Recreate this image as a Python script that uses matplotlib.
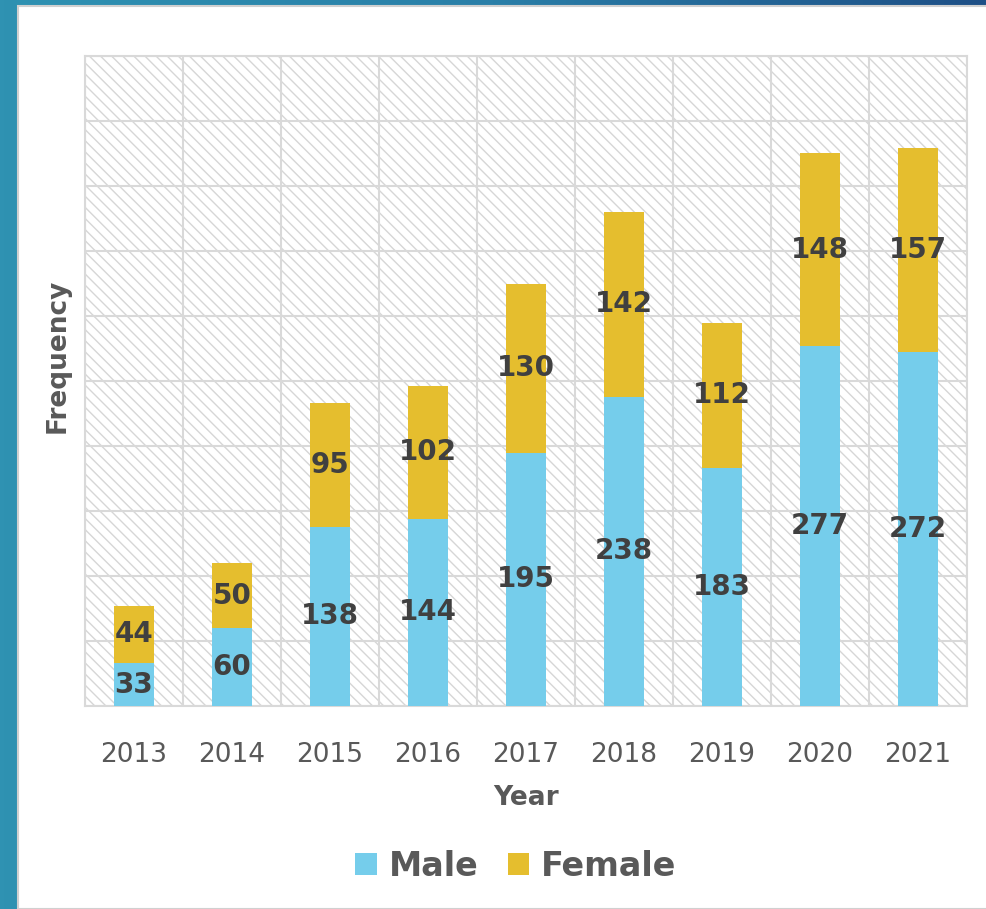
import numpy as np
import matplotlib
matplotlib.use('Agg')
import matplotlib.pyplot as plt
from matplotlib.patches import Rectangle
from matplotlib.colors import LinearSegmentedColormap

years = ['2013', '2014', '2015', '2016', '2017', '2018', '2019', '2020', '2021']
male = [33, 60, 138, 144, 195, 238, 183, 277, 272]
female = [44, 50, 95, 102, 130, 142, 112, 148, 157]

plt.rcParams['font.family'] = ['DejaVu Sans']
plt.rcParams['hatch.color'] = '#D9D9D9'
plt.rcParams['hatch.linewidth'] = 1.0

fig = plt.figure(figsize=(9.86, 9.09), dpi=100)

# blue background with white panel
bg = fig.add_axes([0, 0, 1, 1])
grad = np.linspace(0, 1, 256).reshape(1, -1)
cmap = LinearSegmentedColormap.from_list('bg', ['#2F92B2', '#2A7FA8', '#1E4F86'])
bg.imshow(grad, aspect='auto', cmap=cmap, extent=[0, 1, 0, 1])
bg.add_patch(Rectangle((18 / 986, 0), 1, 1 - 6 / 909, facecolor='white',
                       edgecolor='#D0D0D0', linewidth=1.5))
bg.set_xlim(0, 1)
bg.set_ylim(0, 1)
bg.axis('off')

ax = fig.add_axes([85 / 986, 1 - 706 / 909, (967 - 85) / 986, (706 - 56) / 909])
ax.set_zorder(2)
x = np.arange(len(years))
ax.add_patch(Rectangle((0, 0), 1, 1, transform=ax.transAxes, facecolor='white',
                       edgecolor='#D6D6D6', linewidth=0, hatch='\\\\\\', zorder=0))

male_col = '#75CDEB'
female_col = '#E5BE2E'
ax.bar(x, male, width=0.4, color=male_col, label='Male', zorder=3)
ax.bar(x, female, width=0.4, bottom=male, color=female_col, label='Female', zorder=3)

for i in range(len(years)):
    ax.text(x[i], male[i] / 2, str(male[i]), ha='center', va='center',
            fontsize=20, fontweight='bold', color='#404040', zorder=4)
    ax.text(x[i], male[i] + female[i] / 2, str(female[i]), ha='center', va='center',
            fontsize=20, fontweight='bold', color='#404040', zorder=4)

ax.set_xlim(-0.5, len(years) - 0.5)
ax.set_ylim(0, 500)
ax.set_yticks(np.arange(0, 501, 50))
ax.set_yticklabels([])
ax.set_xticks(x)
ax.set_xticklabels(years, fontsize=19, color='#595959')
ax.set_xticks(np.arange(-0.5, len(years), 1), minor=True)
ax.tick_params(axis='both', which='both', length=0)
ax.tick_params(axis='x', pad=26)
ax.grid(True, axis='y', which='major', color='#D9D9D9', linewidth=1.5, zorder=1)
ax.grid(True, axis='x', which='minor', color='#D9D9D9', linewidth=1.5, zorder=1)
ax.grid(False, axis='x', which='major')
ax.set_axisbelow(True)
for s in ax.spines.values():
    s.set_color('#D9D9D9')
    s.set_linewidth(1.5)

ax.set_xlabel('Year', fontsize=19, fontweight='bold', color='#595959', labelpad=12)
ax.set_ylabel('Frequency', fontsize=19, fontweight='bold', color='#595959')
ax.yaxis.set_label_coords(-0.016, 0.538)

leg = fig.legend(loc='center', bbox_to_anchor=(0.523, 1 - 866 / 909), ncol=2, frameon=False,
                 fontsize=24, handlelength=0.65, handleheight=0.65, handletextpad=0.35,
                 columnspacing=0.88)
for t in leg.get_texts():
    t.set_color('#595959')
    t.set_fontweight('bold')

fig.savefig('out.png', dpi=100)
